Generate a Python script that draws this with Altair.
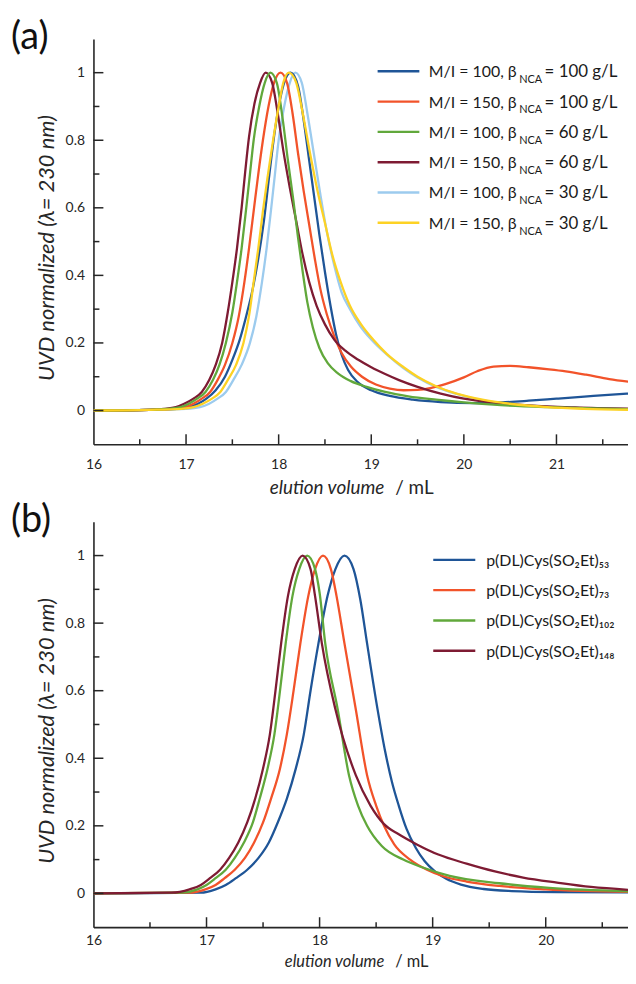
import altair as alt
import pandas as pd

FONT = "Lato"
AXC = "#262626"
TXT = "#1a1a1a"

# ---------------- panel (a) ----------------
A_MAIN = ["M/I = 100, β", "M/I = 150, β", "M/I = 100, β",
          "M/I = 150, β", "M/I = 100, β", "M/I = 150, β"]
A_SUB = ["NCA", "NCA", "NCA", "NCA", "NCA", "NCA"]
A_TAIL = ["= 100 g/L", "= 100 g/L", "= 60 g/L", "= 60 g/L", "= 30 g/L", "= 30 g/L"]
A_COLORS = ["#1f5597", "#f2532a", "#61a83b", "#7e1b33", "#9ccbee", "#fdd224"]

# M/I = 100, 100 g/L (blue)
A1_V = [16.0, 16.6, 16.9, 17.03, 17.13, 17.22, 17.32, 17.42, 17.50, 17.58, 17.65, 17.72, 17.78,
        17.84, 17.90, 17.96, 18.03, 18.13, 18.21, 18.27, 18.33, 18.39, 18.44, 18.50, 18.56, 18.62,
        18.68, 18.75, 18.85, 19.0, 19.2, 19.45, 19.75, 20.1, 20.4, 20.7, 21.0, 21.3, 21.6, 21.82]
A1_U = [0.0, 0.002, 0.005, 0.01, 0.02, 0.035, 0.06, 0.10, 0.15, 0.21, 0.28, 0.36, 0.45,
        0.56, 0.70, 0.83, 0.94, 1.0, 0.96, 0.86, 0.74, 0.62, 0.52, 0.41, 0.31, 0.225,
        0.165, 0.12, 0.085, 0.06, 0.043, 0.032, 0.025, 0.022, 0.024, 0.029, 0.035, 0.041, 0.047, 0.051]
# M/I = 150, 100 g/L (red)
A2_V = [16.0, 16.6, 16.85, 16.99, 17.08, 17.17, 17.26, 17.34, 17.42, 17.50, 17.57, 17.63, 17.68,
        17.73, 17.78, 17.83, 17.89, 17.95, 18.02, 18.09, 18.15, 18.21, 18.27, 18.33, 18.39, 18.45,
        18.52, 18.60, 18.68, 18.78, 18.90, 19.05, 19.2, 19.35, 19.5, 19.65, 19.8, 20.0, 20.15, 20.32,
        20.5, 20.7, 20.92, 21.1, 21.32, 21.57, 21.82]
A2_U = [0.0, 0.002, 0.005, 0.01, 0.02, 0.035, 0.055, 0.09, 0.135, 0.20, 0.28, 0.38, 0.48,
        0.59, 0.70, 0.80, 0.90, 0.97, 1.0, 0.97, 0.88, 0.76, 0.65, 0.55, 0.45, 0.36,
        0.285, 0.22, 0.17, 0.13, 0.10, 0.077, 0.065, 0.06, 0.061, 0.067, 0.078, 0.098, 0.117, 0.13,
        0.132, 0.128, 0.122, 0.116, 0.106, 0.093, 0.084]
# M/I = 100, 60 g/L (green)
A3_V = [16.0, 16.6, 16.8, 16.94, 17.03, 17.12, 17.21, 17.29, 17.36, 17.43, 17.50, 17.55, 17.60,
        17.65, 17.69, 17.73, 17.79, 17.85, 17.91, 17.98, 18.04, 18.10, 18.16, 18.21, 18.26, 18.31,
        18.37, 18.44, 18.53, 18.64, 18.78, 18.95, 19.15, 19.4, 19.7, 20.0, 20.4, 20.9, 21.4, 21.82]
A3_U = [0.0, 0.002, 0.005, 0.01, 0.02, 0.035, 0.055, 0.09, 0.135, 0.20, 0.29, 0.38, 0.48,
        0.60, 0.70, 0.80, 0.90, 0.97, 1.0, 0.97, 0.87, 0.74, 0.62, 0.51, 0.41, 0.32,
        0.245, 0.185, 0.14, 0.11, 0.087, 0.07, 0.055, 0.042, 0.032, 0.024, 0.016, 0.01, 0.006, 0.004]
# M/I = 150, 60 g/L (maroon)
A4_V = [16.0, 16.6, 16.76, 16.89, 16.98, 17.08, 17.17, 17.25, 17.32, 17.39, 17.45, 17.50, 17.55,
        17.60, 17.64, 17.68, 17.74, 17.80, 17.86, 17.93, 17.99, 18.05, 18.12, 18.19, 18.26, 18.33,
        18.41, 18.50, 18.60, 18.72, 18.86, 19.0, 19.15, 19.3, 19.5, 19.75, 20.0, 20.3, 20.7, 21.2, 21.82]
A4_U = [0.0, 0.002, 0.005, 0.01, 0.02, 0.035, 0.055, 0.09, 0.135, 0.20, 0.29, 0.38, 0.48,
        0.60, 0.71, 0.81, 0.91, 0.97, 1.0, 0.97, 0.88, 0.77, 0.66, 0.56, 0.46, 0.38,
        0.31, 0.255, 0.21, 0.177, 0.15, 0.128, 0.108, 0.09, 0.07, 0.05, 0.035, 0.024, 0.015, 0.009, 0.005]
# M/I = 100, 30 g/L (light blue)
A5_V = [16.0, 16.6, 17.0, 17.15, 17.25, 17.34, 17.43, 17.51, 17.60, 17.69, 17.76, 17.82, 17.87,
        17.92, 17.96, 18.00, 18.06, 18.12, 18.18, 18.25, 18.31, 18.38, 18.45, 18.52, 18.60, 18.68,
        18.77, 18.88, 19.0, 19.17, 19.35, 19.5, 19.7, 19.92, 20.15, 20.4, 20.8, 21.3, 21.82]
A5_U = [0.0, 0.002, 0.005, 0.01, 0.02, 0.035, 0.055, 0.09, 0.135, 0.20, 0.28, 0.38, 0.48,
        0.60, 0.70, 0.80, 0.90, 0.97, 1.0, 0.97, 0.88, 0.76, 0.64, 0.53, 0.43, 0.35,
        0.30, 0.25, 0.21, 0.165, 0.125, 0.098, 0.07, 0.049, 0.033, 0.022, 0.013, 0.007, 0.004]
# M/I = 150, 30 g/L (yellow)
A6_V = [16.0, 16.6, 16.95, 17.08, 17.18, 17.28, 17.37, 17.45, 17.54, 17.62, 17.68, 17.73, 17.78,
        17.83, 17.88, 17.94, 18.00, 18.05, 18.11, 18.19, 18.26, 18.34, 18.42, 18.50, 18.58, 18.67,
        18.77, 18.89, 19.02, 19.17, 19.35, 19.50, 19.7, 19.93, 20.2, 20.5, 20.9, 21.3, 21.82]
A6_U = [0.0, 0.002, 0.005, 0.01, 0.02, 0.035, 0.055, 0.09, 0.135, 0.20, 0.28, 0.38, 0.48,
        0.59, 0.69, 0.80, 0.90, 0.97, 1.0, 0.97, 0.88, 0.76, 0.65, 0.555, 0.46, 0.38,
        0.31, 0.255, 0.21, 0.167, 0.128, 0.10, 0.072, 0.049, 0.032, 0.02, 0.01, 0.005, 0.002]

# ---------------- panel (b) ----------------
B_LABELS = ["p(DL)Cys(SO₂Et)₅₃", "p(DL)Cys(SO₂Et)₇₃", "p(DL)Cys(SO₂Et)₁₀₂", "p(DL)Cys(SO₂Et)₁₄₈"]
B_COLORS = ["#1f5597", "#f2532a", "#61a83b", "#7e1b33"]

B1_V = [16.0, 16.95, 17.08, 17.17, 17.26, 17.36, 17.46, 17.55, 17.63, 17.71, 17.79, 17.86, 17.92,
        17.99, 18.07, 18.14, 18.22, 18.30, 18.36, 18.42, 18.51, 18.58, 18.64, 18.70, 18.77, 18.85,
        18.93, 19.02, 19.12, 19.25, 19.45, 19.70, 20.10, 20.76]
B1_U = [0.0, 0.002, 0.012, 0.025, 0.045, 0.07, 0.105, 0.15, 0.21, 0.28, 0.37, 0.47, 0.60,
        0.74, 0.88, 0.96, 1.0, 0.96, 0.87, 0.74, 0.55, 0.42, 0.33, 0.26, 0.19, 0.135,
        0.095, 0.065, 0.043, 0.026, 0.013, 0.007, 0.004, 0.003]
B2_V = [16.0, 16.84, 16.99, 17.08, 17.16, 17.25, 17.34, 17.42, 17.50, 17.57, 17.65, 17.71, 17.77,
        17.83, 17.90, 17.96, 18.03, 18.10, 18.15, 18.22, 18.32, 18.42, 18.50, 18.57, 18.66, 18.80,
        18.95, 19.10, 19.30, 19.59, 20.0, 20.76]
B2_U = [0.0, 0.002, 0.012, 0.025, 0.045, 0.07, 0.105, 0.15, 0.21, 0.28, 0.37, 0.47, 0.60,
        0.74, 0.88, 0.96, 1.0, 0.96, 0.88, 0.74, 0.545, 0.35, 0.26, 0.20, 0.145, 0.10,
        0.07, 0.05, 0.035, 0.022, 0.012, 0.004]
B3_V = [16.0, 16.78, 16.92, 17.00, 17.08, 17.17, 17.25, 17.33, 17.41, 17.47, 17.54, 17.60, 17.65,
        17.70, 17.76, 17.82, 17.89, 17.96, 18.00, 18.05, 18.16, 18.26, 18.34, 18.42, 18.55, 18.74,
        18.90, 19.15, 19.59, 20.03, 20.76]
B3_U = [0.0, 0.002, 0.012, 0.025, 0.045, 0.07, 0.105, 0.15, 0.21, 0.28, 0.37, 0.47, 0.60,
        0.74, 0.88, 0.96, 1.0, 0.96, 0.89, 0.74, 0.545, 0.35, 0.26, 0.20, 0.14, 0.10,
        0.078, 0.052, 0.03, 0.016, 0.006]
B4_V = [16.0, 16.69, 16.85, 16.95, 17.03, 17.12, 17.20, 17.28, 17.36, 17.43, 17.50, 17.56, 17.61,
        17.66, 17.72, 17.78, 17.85, 17.92, 17.96, 18.02, 18.14, 18.32, 18.45, 18.57, 18.70, 18.86,
        19.05, 19.30, 19.55, 19.80, 20.10, 20.40, 20.76]
B4_U = [0.0, 0.002, 0.012, 0.025, 0.045, 0.07, 0.105, 0.15, 0.21, 0.28, 0.37, 0.47, 0.60,
        0.74, 0.88, 0.96, 1.0, 0.96, 0.88, 0.74, 0.545, 0.35, 0.26, 0.205, 0.175, 0.145,
        0.115, 0.088, 0.065, 0.047, 0.032, 0.019, 0.01]

Y_LABELS = [0, 0.2, 0.4, 0.6, 0.8, 1]
Y_MINOR = [0.1, 0.3, 0.5, 0.7, 0.9]
A_XLABELS = [16, 17, 18, 19, 20, 21]
A_XMINOR = [16.5, 17.5, 18.5, 19.5, 20.5, 21.5]
B_XLABELS = [16, 17, 18, 19, 20]
B_XMINOR = [16.5, 17.5, 18.5, 19.5, 20.5]

YTITLE = "UVD normalized (λ= 230 nm)"
XTITLE_IT = "elution volume"
XTITLE_UNIT = "/ mL"

W = 538
H = 408


def one(text):
    return pd.DataFrame({"t": [text]})


def base_layers(series, colors, order, px_per_ml, xlabels, xminor, tag,
                label_pad, xtitle_y, xtitle_size):
    xs = alt.Scale(domain=[16, 16 + W / px_per_ml], nice=False, zero=False)
    ys = alt.Scale(domain=[-0.1, 1.1], nice=False, zero=False)
    xaxis = alt.Axis(
        values=xlabels, format="d", ticks=False, tickSize=0, grid=False,
        domainColor=AXC, domainWidth=1.6, labelFont=FONT, labelFontSize=14,
        labelColor=AXC, labelPadding=label_pad, labelFlush=False, title=None)
    yaxis = alt.Axis(
        values=Y_LABELS, format="~g", ticks=False, tickSize=0, grid=False,
        domainColor=AXC, domainWidth=1.6, labelFont=FONT, labelFontSize=14,
        labelColor=AXC, labelPadding=9, title=YTITLE, titleFont=FONT,
        titleFontSize=22, titleFontStyle="italic", titleFontWeight="normal",
        titleColor=AXC, titleX=-47, titleY=210, titleAngle=270,
        titleAlign="center", titleBaseline="middle")
    layers = []
    for k in order:
        v, u = series[k]
        df = pd.DataFrame({"v": v, "u": u})
        layers.append(alt.Chart(df).mark_line(
            color=colors[k], strokeWidth=2.3, interpolate="monotone", clip=True
        ).encode(x=alt.X("v:Q", scale=xs, axis=xaxis), y=alt.Y("u:Q", scale=ys, axis=yaxis)))
    # inward ticks (drawn as rules on the shared scales)
    layers.append(alt.Chart(pd.DataFrame({"t": Y_LABELS})).mark_rule(color=AXC, strokeWidth=1.5).encode(
        y=alt.Y("t:Q", scale=ys, axis=yaxis), x=alt.value(0), x2=alt.value(10)))
    layers.append(alt.Chart(pd.DataFrame({"t": Y_MINOR})).mark_rule(color=AXC, strokeWidth=1.5).encode(
        y=alt.Y("t:Q", scale=ys, axis=yaxis), x=alt.value(0), x2=alt.value(6)))
    layers.append(alt.Chart(pd.DataFrame({"t": xlabels[1:]})).mark_rule(color=AXC, strokeWidth=1.5).encode(
        x=alt.X("t:Q", scale=xs, axis=xaxis), y=alt.value(H), y2=alt.value(H - 10)))
    layers.append(alt.Chart(pd.DataFrame({"t": xminor})).mark_rule(color=AXC, strokeWidth=1.5).encode(
        x=alt.X("t:Q", scale=xs, axis=xaxis), y=alt.value(H), y2=alt.value(H - 5)))
    # x axis title: italic quantity + upright unit
    layers.append(alt.Chart(one(XTITLE_IT)).mark_text(
        font=FONT, fontSize=xtitle_size, fontStyle="italic", align="right", baseline="alphabetic", color=AXC
    ).encode(text="t:N", x=alt.value(292.7), y=alt.value(xtitle_y)))
    layers.append(alt.Chart(one(XTITLE_UNIT)).mark_text(
        font=FONT, fontSize=xtitle_size, align="left", baseline="alphabetic", color=AXC
    ).encode(text="t:N", x=alt.value(303.7), y=alt.value(xtitle_y)))
    # panel tag
    layers.append(alt.Chart(one(tag)).mark_text(
        font=FONT, fontSize=38, align="left", baseline="top", color="#111"
    ).encode(text="t:N", x=alt.value(-83), y=alt.value(-19.7)))
    return layers


# ----- panel (a) -----
series_a = [(A1_V, A1_U), (A2_V, A2_U), (A3_V, A3_U), (A4_V, A4_U), (A5_V, A5_U), (A6_V, A6_U)]
layers_a = base_layers(series_a, A_COLORS, [4, 0, 1, 3, 2, 5], 93.2,
                       A_XLABELS, A_XMINOR, "(a)", 13, 458, 19)
leg_a = alt.Chart(pd.DataFrame({
    "i": list(range(6)), "main": A_MAIN, "sub": A_SUB, "tail": A_TAIL, "c": A_COLORS
})).transform_calculate(py="32.6 + 30.5 * datum.i", pm="38.6 + 30.5 * datum.i",
                        ps="44.5 + 30.5 * datum.i")
layers_a += [
    leg_a.mark_rule(strokeWidth=2.4).encode(
        x=alt.value(286), x2=alt.value(328), y=alt.Y("py:Q", scale=None), color=alt.Color("c:N", scale=None)),
    leg_a.mark_text(font=FONT, fontSize=16, align="right", baseline="alphabetic", color=TXT).encode(
        x=alt.value(426), y=alt.Y("pm:Q", scale=None), text="main:N"),
    leg_a.mark_text(font=FONT, fontSize=11, align="left", baseline="alphabetic", color=TXT).encode(
        x=alt.value(428.5), y=alt.Y("ps:Q", scale=None), text="sub:N"),
    leg_a.mark_text(font=FONT, fontSize=17, align="left", baseline="alphabetic", color=TXT).encode(
        x=alt.value(454), y=alt.Y("pm:Q", scale=None), text="tail:N"),
]
chart_a = alt.layer(*layers_a).properties(width=W, height=H)

# ----- panel (b) -----
series_b = [(B1_V, B1_U), (B2_V, B2_U), (B3_V, B3_U), (B4_V, B4_U)]
layers_b = base_layers(series_b, B_COLORS, [0, 1, 2, 3], 113.8,
                       B_XLABELS, B_XMINOR, "(b)", 6.5, 447.8, 16.5)
leg_b = alt.Chart(pd.DataFrame({
    "i": list(range(4)), "lab": B_LABELS, "c": B_COLORS
})).transform_calculate(py="38.3 + 30.5 * datum.i", pm="44.3 + 30.5 * datum.i")
layers_b += [
    leg_b.mark_rule(strokeWidth=2.4).encode(
        x=alt.value(342), x2=alt.value(384.3), y=alt.Y("py:Q", scale=None), color=alt.Color("c:N", scale=None)),
    leg_b.mark_text(font=FONT, fontSize=16, align="left", baseline="alphabetic", color=TXT).encode(
        x=alt.value(395.3), y=alt.Y("pm:Q", scale=None), text="lab:N"),
]
chart_b = alt.layer(*layers_b).properties(width=W, height=H)

chart = alt.vconcat(chart_a, chart_b, spacing=78, bounds="flush").configure_view(
    stroke=None
).properties(padding={"left": 3, "top": 8, "right": 0, "bottom": -3.3})

chart.save("out.html", embed_options={"renderer": "svg", "actions": False})
